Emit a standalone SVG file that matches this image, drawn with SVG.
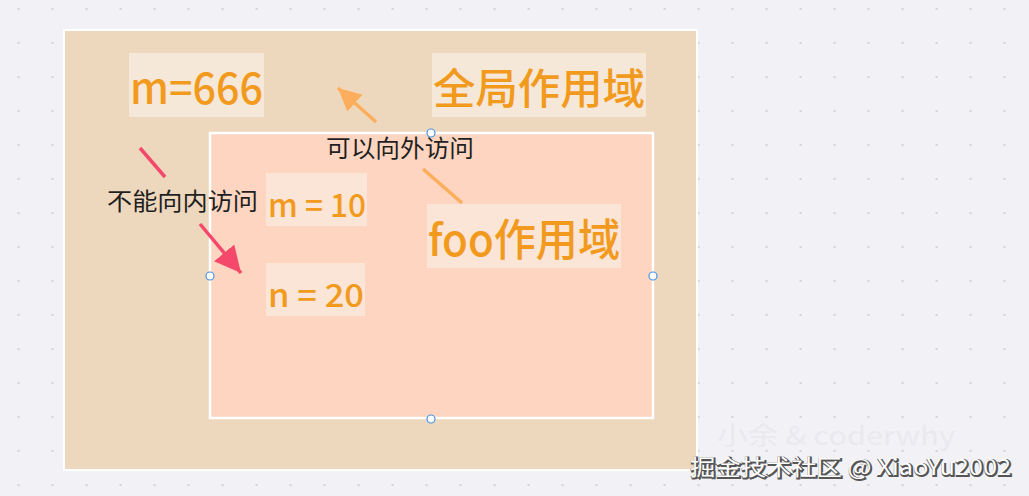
<svg xmlns="http://www.w3.org/2000/svg" width="1029" height="496" viewBox="0 0 1029 496">
<defs>
<pattern id="dots" x="0.5" y="-8" width="34" height="34" patternUnits="userSpaceOnUse">
<circle cx="18" cy="17" r="1.1" fill="#c9c9d1"/>
</pattern>
<marker id="ahO" viewBox="0 0 10 10" refX="10" refY="5" markerWidth="6.5" markerHeight="6.5" markerUnits="strokeWidth" orient="auto">
<path d="M0,0 L10,5 L0,10 z" fill="#fdae5c"/>
</marker>
<marker id="ahR" viewBox="0 0 10 10" refX="10" refY="5" markerWidth="7.5" markerHeight="7.5" markerUnits="strokeWidth" orient="auto">
<path d="M0,0 L10,5 L0,10 z" fill="#f4496b"/>
</marker>
</defs>
<style>
text{font-family:"Noto Sans CJK SC","Noto Sans",sans-serif}
.lbl{fill:#f29a1d;font-weight:500}
.note{fill:#1f1f1f;font-size:24px}
.bgo{fill:#f6e8d8}
.bgi{fill:#fbe5d6}
.handle{fill:#ffffff;stroke:#4a90e2;stroke-width:1.2}
</style>
<rect width="1029" height="496" fill="#f2f2f6"/>
<rect width="1029" height="496" fill="url(#dots)"/>
<g id="global-scope">
<rect x="64" y="30" width="633" height="440" fill="#eed8bd" stroke="#ffffff" stroke-width="2"/>
</g>
<g id="foo-scope">
<rect x="210" y="133" width="443" height="285" fill="#fdd5c0" stroke="#ffffff" stroke-width="2.5"/>
</g>
<g id="label-m666">
<rect class="bgo" x="129" y="53" width="135" height="64"/>
<text class="lbl" x="130" y="104" font-size="43" textLength="133" lengthAdjust="spacingAndGlyphs">m=666</text>
</g>
<g id="label-global">
<rect class="bgo" x="432" y="53" width="214" height="64"/>
<text class="lbl" x="433" y="104" font-size="42" textLength="212" lengthAdjust="spacingAndGlyphs">全局作用域</text>
</g>
<g id="label-foo">
<rect class="bgi" x="427" y="204" width="194" height="64"/>
<text class="lbl" x="428" y="256" font-size="44" textLength="192" lengthAdjust="spacingAndGlyphs">foo作用域</text>
</g>
<g id="label-m10">
<rect class="bgi" x="266" y="173" width="101" height="53"/>
<text class="lbl" x="268" y="217" font-size="32" textLength="98" lengthAdjust="spacingAndGlyphs">m = 10</text>
</g>
<g id="label-n20">
<rect class="bgi" x="266" y="263" width="99" height="53"/>
<text class="lbl" x="268" y="307" font-size="32" textLength="96" lengthAdjust="spacingAndGlyphs">n = 20</text>
</g>
<g id="connectors">
<line x1="423" y1="169" x2="462" y2="203" stroke="#fdae5c" stroke-width="3.5"/>
<line x1="376" y1="122" x2="338" y2="88" stroke="#fdae5c" stroke-width="3.5" marker-end="url(#ahO)"/>
<line x1="140" y1="148" x2="165" y2="177" stroke="#f4496b" stroke-width="3.5"/>
<line x1="200" y1="224" x2="241" y2="273" stroke="#f4496b" stroke-width="3.5" marker-end="url(#ahR)"/>
</g>
<g id="note-out">
<text class="note" x="326" y="157" textLength="148" lengthAdjust="spacingAndGlyphs">可以向外访问</text>
</g>
<g id="note-in">
<text class="note" x="107" y="210" font-size="25" textLength="151" lengthAdjust="spacingAndGlyphs">不能向内访问</text>
</g>
<g id="handles">
<circle class="handle" cx="431" cy="133" r="4"/>
<circle class="handle" cx="210" cy="276" r="4"/>
<circle class="handle" cx="653" cy="276" r="4"/>
<circle class="handle" cx="431" cy="419" r="4"/>
</g>
<g id="watermark">
<text x="717" y="445" font-size="26" fill="#e9e9ee" textLength="238" lengthAdjust="spacingAndGlyphs">小余 &amp; coderwhy</text>
<text x="691" y="476" font-size="22" fill="#555" stroke="#555" stroke-width="2" textLength="321" lengthAdjust="spacingAndGlyphs">掘金技术社区 @ XiaoYu2002</text>
<text x="690" y="475" font-size="22" fill="#ffffff" textLength="321" lengthAdjust="spacingAndGlyphs">掘金技术社区 @ XiaoYu2002</text>
</g>
</svg>
